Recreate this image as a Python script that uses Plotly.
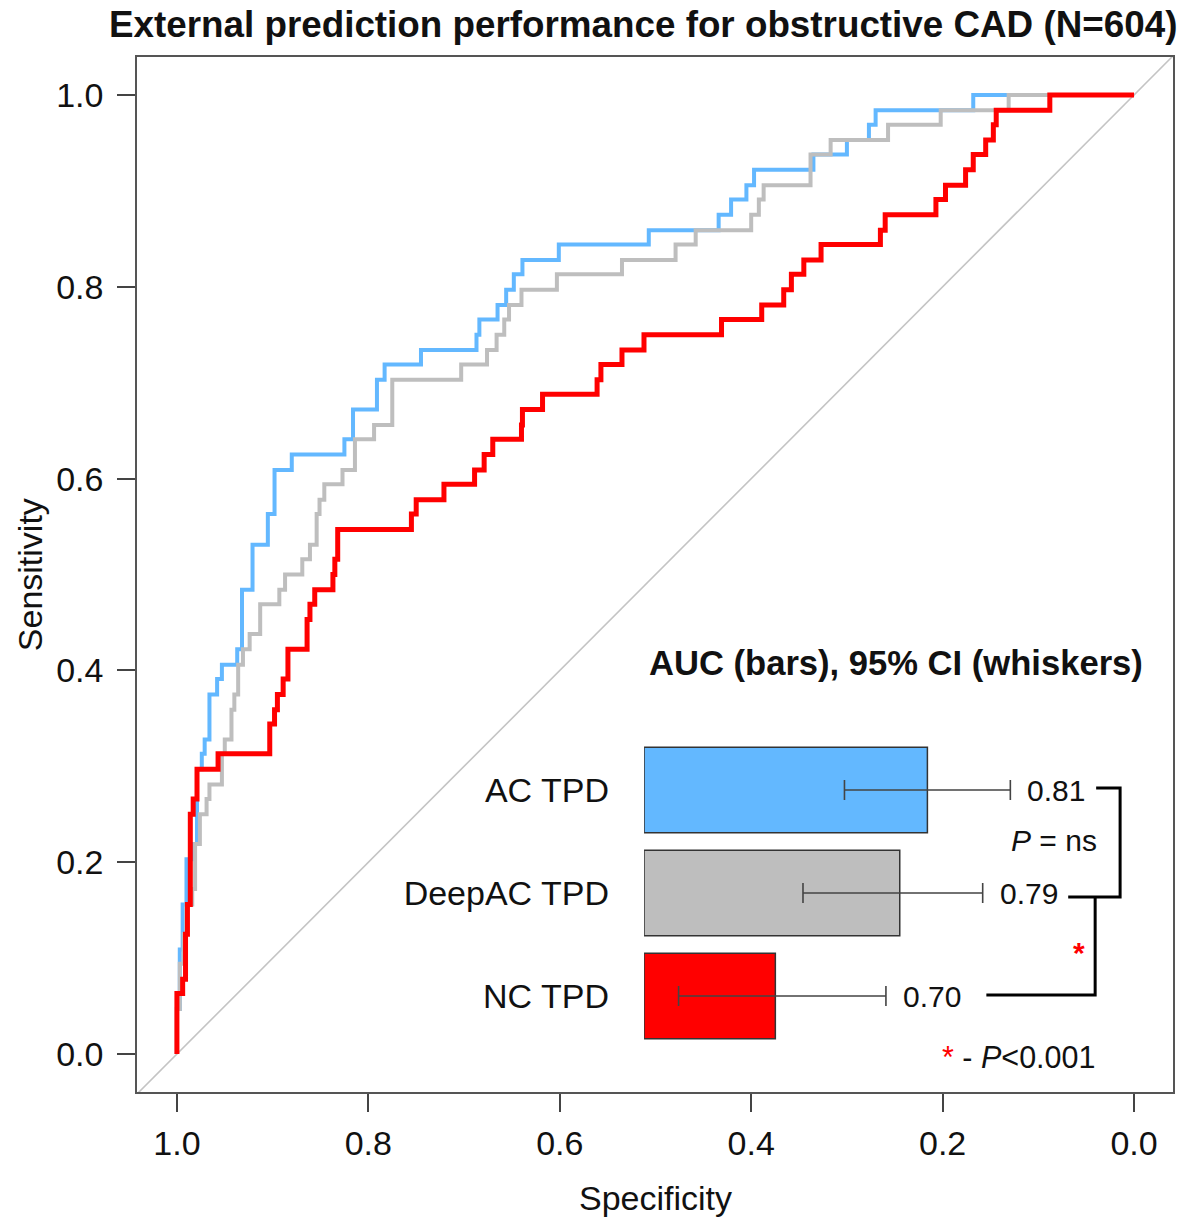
import plotly.graph_objects as go

# ---------------- data ----------------
# ROC points: (specificity, sensitivity); drawn as vertical-then-horizontal steps
ac_spec = [1.0, 0.997, 0.994, 0.990, 0.984, 0.979, 0.974, 0.971, 0.966, 0.958, 0.953, 0.937, 0.932, 0.921,
           0.905, 0.898, 0.880, 0.825, 0.816, 0.791, 0.783, 0.745, 0.687, 0.684, 0.665, 0.656, 0.648, 0.639,
           0.601, 0.507, 0.434, 0.421, 0.405, 0.397, 0.335, 0.300, 0.277, 0.270, 0.168, 0.0]
ac_sens = [0.0, 0.047, 0.109, 0.156, 0.203, 0.219, 0.297, 0.313, 0.328, 0.375, 0.391, 0.406, 0.422, 0.484,
           0.531, 0.563, 0.609, 0.625, 0.641, 0.672, 0.703, 0.719, 0.734, 0.750, 0.766, 0.781, 0.797, 0.813,
           0.828, 0.844, 0.859, 0.875, 0.891, 0.906, 0.922, 0.938, 0.953, 0.969, 0.984, 1.0]

deep_spec = [1.0, 0.997, 0.993, 0.990, 0.984, 0.981, 0.976, 0.969, 0.966, 0.953, 0.950, 0.943, 0.940, 0.936,
             0.931, 0.924, 0.913, 0.893, 0.887, 0.869, 0.861, 0.854, 0.851, 0.846, 0.827, 0.814, 0.794, 0.775,
             0.703, 0.676, 0.666, 0.658, 0.653, 0.640, 0.603, 0.535, 0.479, 0.458, 0.400, 0.392, 0.387, 0.338,
             0.317, 0.257, 0.202, 0.131, 0.0]
deep_sens = [0.0, 0.047, 0.094, 0.125, 0.156, 0.172, 0.219, 0.250, 0.266, 0.281, 0.313, 0.328, 0.359, 0.375,
             0.406, 0.422, 0.438, 0.469, 0.484, 0.500, 0.516, 0.531, 0.563, 0.578, 0.594, 0.609, 0.641, 0.656,
             0.703, 0.719, 0.734, 0.750, 0.766, 0.781, 0.797, 0.813, 0.828, 0.844, 0.859, 0.875, 0.891, 0.906,
             0.938, 0.953, 0.969, 0.984, 1.0]

nc_spec = [1.0, 0.994, 0.991, 0.989, 0.986, 0.983, 0.979, 0.957, 0.903, 0.898, 0.895, 0.889, 0.884, 0.864,
           0.861, 0.856, 0.837, 0.835, 0.832, 0.755, 0.750, 0.721, 0.689, 0.679, 0.670, 0.640, 0.639, 0.618,
           0.561, 0.557, 0.535, 0.512, 0.431, 0.389, 0.366, 0.358, 0.345, 0.327, 0.265, 0.260, 0.207, 0.197,
           0.176, 0.168, 0.155, 0.147, 0.144, 0.088, 0.0]
nc_sens = [0.0, 0.063, 0.078, 0.125, 0.156, 0.250, 0.266, 0.297, 0.313, 0.344, 0.359, 0.375, 0.391, 0.422,
           0.453, 0.469, 0.484, 0.500, 0.516, 0.547, 0.563, 0.578, 0.594, 0.609, 0.625, 0.641, 0.656, 0.672,
           0.688, 0.703, 0.719, 0.734, 0.750, 0.766, 0.781, 0.797, 0.813, 0.828, 0.844, 0.859, 0.875, 0.891,
           0.906, 0.922, 0.938, 0.953, 0.969, 0.984, 1.0]

models = ["AC TPD", "DeepAC TPD", "NC TPD"]
auc = [0.81, 0.79, 0.70]
ci_low = [0.75, 0.72, 0.63]
ci_high = [0.87, 0.85, 0.78]

spec_ticks = [1.0, 0.8, 0.6, 0.4, 0.2, 0.0]
sens_ticks = [0.0, 0.2, 0.4, 0.6, 0.8, 1.0]

title = "External prediction performance for obstructive CAD (N=604)"
inset_title = "AUC (bars), 95% CI (whiskers)"

# ---------------- styling / layout constants ----------------
W, H = 1180, 1219
ML, MR, MT, MB = 137, 5, 57, 127
PW, PH = W - ML - MR, H - MT - MB
FONT = "Liberation Sans, Arial, Helvetica, sans-serif"
TXT = "#111111"
colors = ["#63B8FF", "#BEBEBE", "#FF0000"]
widths = [4.0, 4.0, 5.0]
AUC_BASE = 0.605          # left end of the inset bar axis
AUC_SPAN = 530 / 1385.0   # inset axis extent


def pxx(x):
    return (x - ML) / PW


def pxy(y):
    return (H - MB - y) / PH


fig = go.Figure()

# identity line
fig.add_trace(go.Scatter(x=[1.1, -0.1], y=[-0.1, 1.1], mode="lines",
                         line=dict(color="#C4C4C4", width=1.6), hoverinfo="skip"))

for sp, se, c, w in [(ac_spec, ac_sens, colors[0], widths[0]),
                     (deep_spec, deep_sens, colors[1], widths[1]),
                     (nc_spec, nc_sens, colors[2], widths[2])]:
    fig.add_trace(go.Scatter(x=sp, y=se, mode="lines",
                             line=dict(color=c, width=w, shape="vh")))

# inset bars
fig.add_trace(go.Bar(
    y=models, x=[a - AUC_BASE for a in auc], base=AUC_BASE, orientation="h",
    marker=dict(color=colors, line=dict(color="#333333", width=1.5)),
    xaxis="x2", yaxis="y2", width=0.83))

# whiskers (95% CI)
fig.add_trace(go.Scatter(
    y=models, x=auc, mode="markers", marker=dict(opacity=0, size=1),
    error_x=dict(type="data", symmetric=False,
                 array=[h - a for h, a in zip(ci_high, auc)],
                 arrayminus=[a - l for a, l in zip(auc, ci_low)],
                 color="#444444", thickness=1.6, width=10),
    xaxis="x2", yaxis="y2"))

annotations = [
    dict(text="<b>" + title + "</b>", x=pxx(644), y=pxy(25), xref="paper", yref="paper",
         showarrow=False, font=dict(size=36.8, color=TXT, family=FONT), xanchor="center", yanchor="middle"),
    dict(text="Specificity", x=pxx(656), y=pxy(1198), xref="paper", yref="paper",
         showarrow=False, font=dict(size=34, color=TXT, family=FONT), xanchor="center", yanchor="middle"),
    dict(text="Sensitivity", x=pxx(30), y=pxy(575), xref="paper", yref="paper", textangle=-90,
         showarrow=False, font=dict(size=34, color=TXT, family=FONT), xanchor="center", yanchor="middle"),
    dict(text="<b>" + inset_title + "</b>", x=pxx(897), y=pxy(663), xref="paper", yref="paper",
         showarrow=False, font=dict(size=34.6, color=TXT, family=FONT), xanchor="center", yanchor="middle"),
    dict(text="<i>P</i> = ns", x=pxx(1101), y=pxy(840), xref="paper", yref="paper",
         showarrow=False, font=dict(size=30, color=TXT, family=FONT), xanchor="right", yanchor="middle"),
    dict(text="<b>*</b>", x=pxx(1081), y=pxy(952), xref="paper", yref="paper",
         showarrow=False, font=dict(size=30, color="#FF0000", family=FONT), xanchor="center", yanchor="middle"),
    dict(text="<span style='color:#FF0000'>*</span> - <i>P</i>&lt;0.001", x=pxx(1099), y=pxy(1057),
         xref="paper", yref="paper", showarrow=False,
         font=dict(size=30.5, color=TXT, family=FONT), xanchor="right", yanchor="middle"),
]
for m, a, h in zip(models, auc, ci_high):
    annotations.append(dict(text=f"{a:.2f}", x=h, y=m, xref="x2", yref="y2", xanchor="left",
                            yanchor="middle", xshift=15, showarrow=False,
                            font=dict(size=30, color=TXT, family=FONT)))


def path(points):
    s = "M %f,%f" % (pxx(points[0][0]), pxy(points[0][1]))
    for x, y in points[1:]:
        s += " L %f,%f" % (pxx(x), pxy(y))
    return s


shapes = [
    dict(type="path", xref="paper", yref="paper",
         path=path([(1098, 788), (1122, 788), (1122, 897), (1070, 897)]),
         line=dict(color="#000000", width=3)),
    dict(type="path", xref="paper", yref="paper",
         path=path([(1097, 897), (1097, 995), (988, 995)]),
         line=dict(color="#000000", width=3)),
]

axis_common = dict(showgrid=False, zeroline=False, showline=True, mirror=True,
                   linecolor="#555555", linewidth=1.5, ticks="outside", ticklen=18,
                   tickwidth=1.5, tickcolor="#444444",
                   tickfont=dict(size=34, color=TXT, family=FONT))

fig.update_layout(
    width=W, height=H, margin=dict(l=ML, r=MR, t=MT, b=MB),
    paper_bgcolor="white", plot_bgcolor="white", showlegend=False,
    xaxis=dict(range=[1.0417, -0.0407], tickvals=spec_ticks, ticktext=[f"{v:.1f}" for v in spec_ticks],
               ticklabelstandoff=2, **axis_common),
    yaxis=dict(range=[-0.0396, 1.0396], tickvals=sens_ticks, ticktext=[f"{v:.1f}" for v in sens_ticks],
               ticklabelstandoff=7, **axis_common),
    xaxis2=dict(domain=[pxx(645), 1.0], range=[AUC_BASE, AUC_BASE + AUC_SPAN], anchor="y2",
                visible=False, fixedrange=True),
    yaxis2=dict(domain=[pxy(1047.5), pxy(738.5)], type="category", categoryorder="array",
                categoryarray=models, range=[2.5, -0.5], anchor="x2", showline=False, showgrid=False,
                zeroline=False, ticks="", ticklabelstandoff=34,
                tickfont=dict(size=34, color=TXT, family=FONT)),
    annotations=annotations, shapes=shapes,
    font=dict(family=FONT, color=TXT),
)

fig.write_html("out.html")
